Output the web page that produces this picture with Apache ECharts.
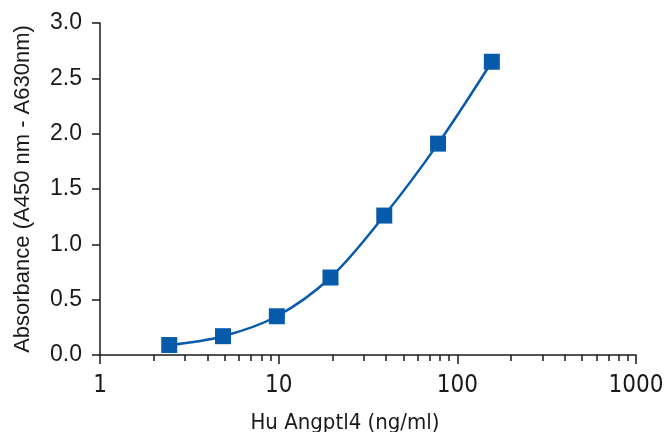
<!DOCTYPE html>
<html>
<head>
<meta charset="utf-8">
<script src="https://cdn.jsdelivr.net/npm/echarts@6/dist/echarts.min.js"></script>
<style>
  html, body { margin: 0; padding: 0; background: #fff; }
  #chart { width: 665px; height: 432px; }
</style>
</head>
<body>
<div id="chart"></div>
<script>
// concentrations (ng/ml) and absorbance
var concentrations = [2.44, 4.88, 9.77, 19.5, 39, 78, 156];
var absorbance = [0.09, 0.17, 0.35, 0.70, 1.26, 1.91, 2.65];

var majorTicks = [1, 10, 100, 1000];
var minorTicks = [2, 3, 4, 5, 6, 7, 8, 9, 20, 30, 40, 50, 60, 70, 80, 90, 200, 300, 400, 500, 600, 700, 800, 900];

var blue = '#085BAA';
var ink = '#1a1a1a';
var narrowFont = '"Liberation Sans Narrow", "DejaVu Sans Condensed", sans-serif';

var points = concentrations.map(function (c, i) { return [c, absorbance[i]]; });

var chart = echarts.init(document.getElementById('chart'));
chart.setOption({
    animation: false,
    grid: { left: 100, right: 29, top: 23, bottom: 77, containLabel: false, outerBoundsMode: 'none' },
    xAxis: [{
        type: 'log',
        logBase: 10,
        min: 1,
        max: 1000,
        name: 'Hu Angptl4 (ng/ml)',
        nameLocation: 'middle',
        nameGap: 57,
        nameTextStyle: { fontFamily: narrowFont, fontSize: 22, color: ink, padding: [0, 46, 0, 0] },
        axisLine: { onZero: false, lineStyle: { color: ink, width: 1.5 } },
        axisTick: { show: true, inside: false, length: 9, customValues: majorTicks, lineStyle: { color: ink, width: 1.5 } },
        axisLabel: {
            customValues: majorTicks,
            fontFamily: narrowFont,
            fontSize: 24,
            color: ink,
            margin: 19,
            formatter: function (v) { return String(Math.round(v)); }
        },
        splitLine: { show: false },
        minorTick: { show: false }
    }, {
        type: 'log',
        logBase: 10,
        min: 1,
        max: 1000,
        position: 'bottom',
        axisLine: { show: false },
        axisTick: { show: true, inside: false, length: 6, customValues: minorTicks, lineStyle: { color: ink, width: 1.5 } },
        axisLabel: { show: false },
        splitLine: { show: false }
    }],
    yAxis: {
        type: 'value',
        min: 0,
        max: 3,
        interval: 0.5,
        name: 'Absorbance (A450 nm - A630nm)',
        nameLocation: 'middle',
        nameGap: 66,
        nameTextStyle: { fontFamily: '"Liberation Sans", Arial, sans-serif', fontSize: 22, color: ink },
        axisLine: { show: true, lineStyle: { color: ink, width: 1.5 } },
        axisTick: { show: true, length: 8, lineStyle: { color: ink, width: 1.5 } },
        axisLabel: {
            fontFamily: '"Liberation Sans", Arial, sans-serif',
            fontSize: 23,
            color: ink,
            margin: 18,
            formatter: function (v) { return v.toFixed(1); }
        },
        splitLine: { show: false }
    },
    series: [{
        type: 'line',
        xAxisIndex: 0,
        data: points,
        smooth: 0.35,
        symbol: 'rect',
        symbolSize: 16,
        itemStyle: { color: blue },
        lineStyle: { color: blue, width: 2.5 },
        clip: false
    }]
});
</script>
</body>
</html>
